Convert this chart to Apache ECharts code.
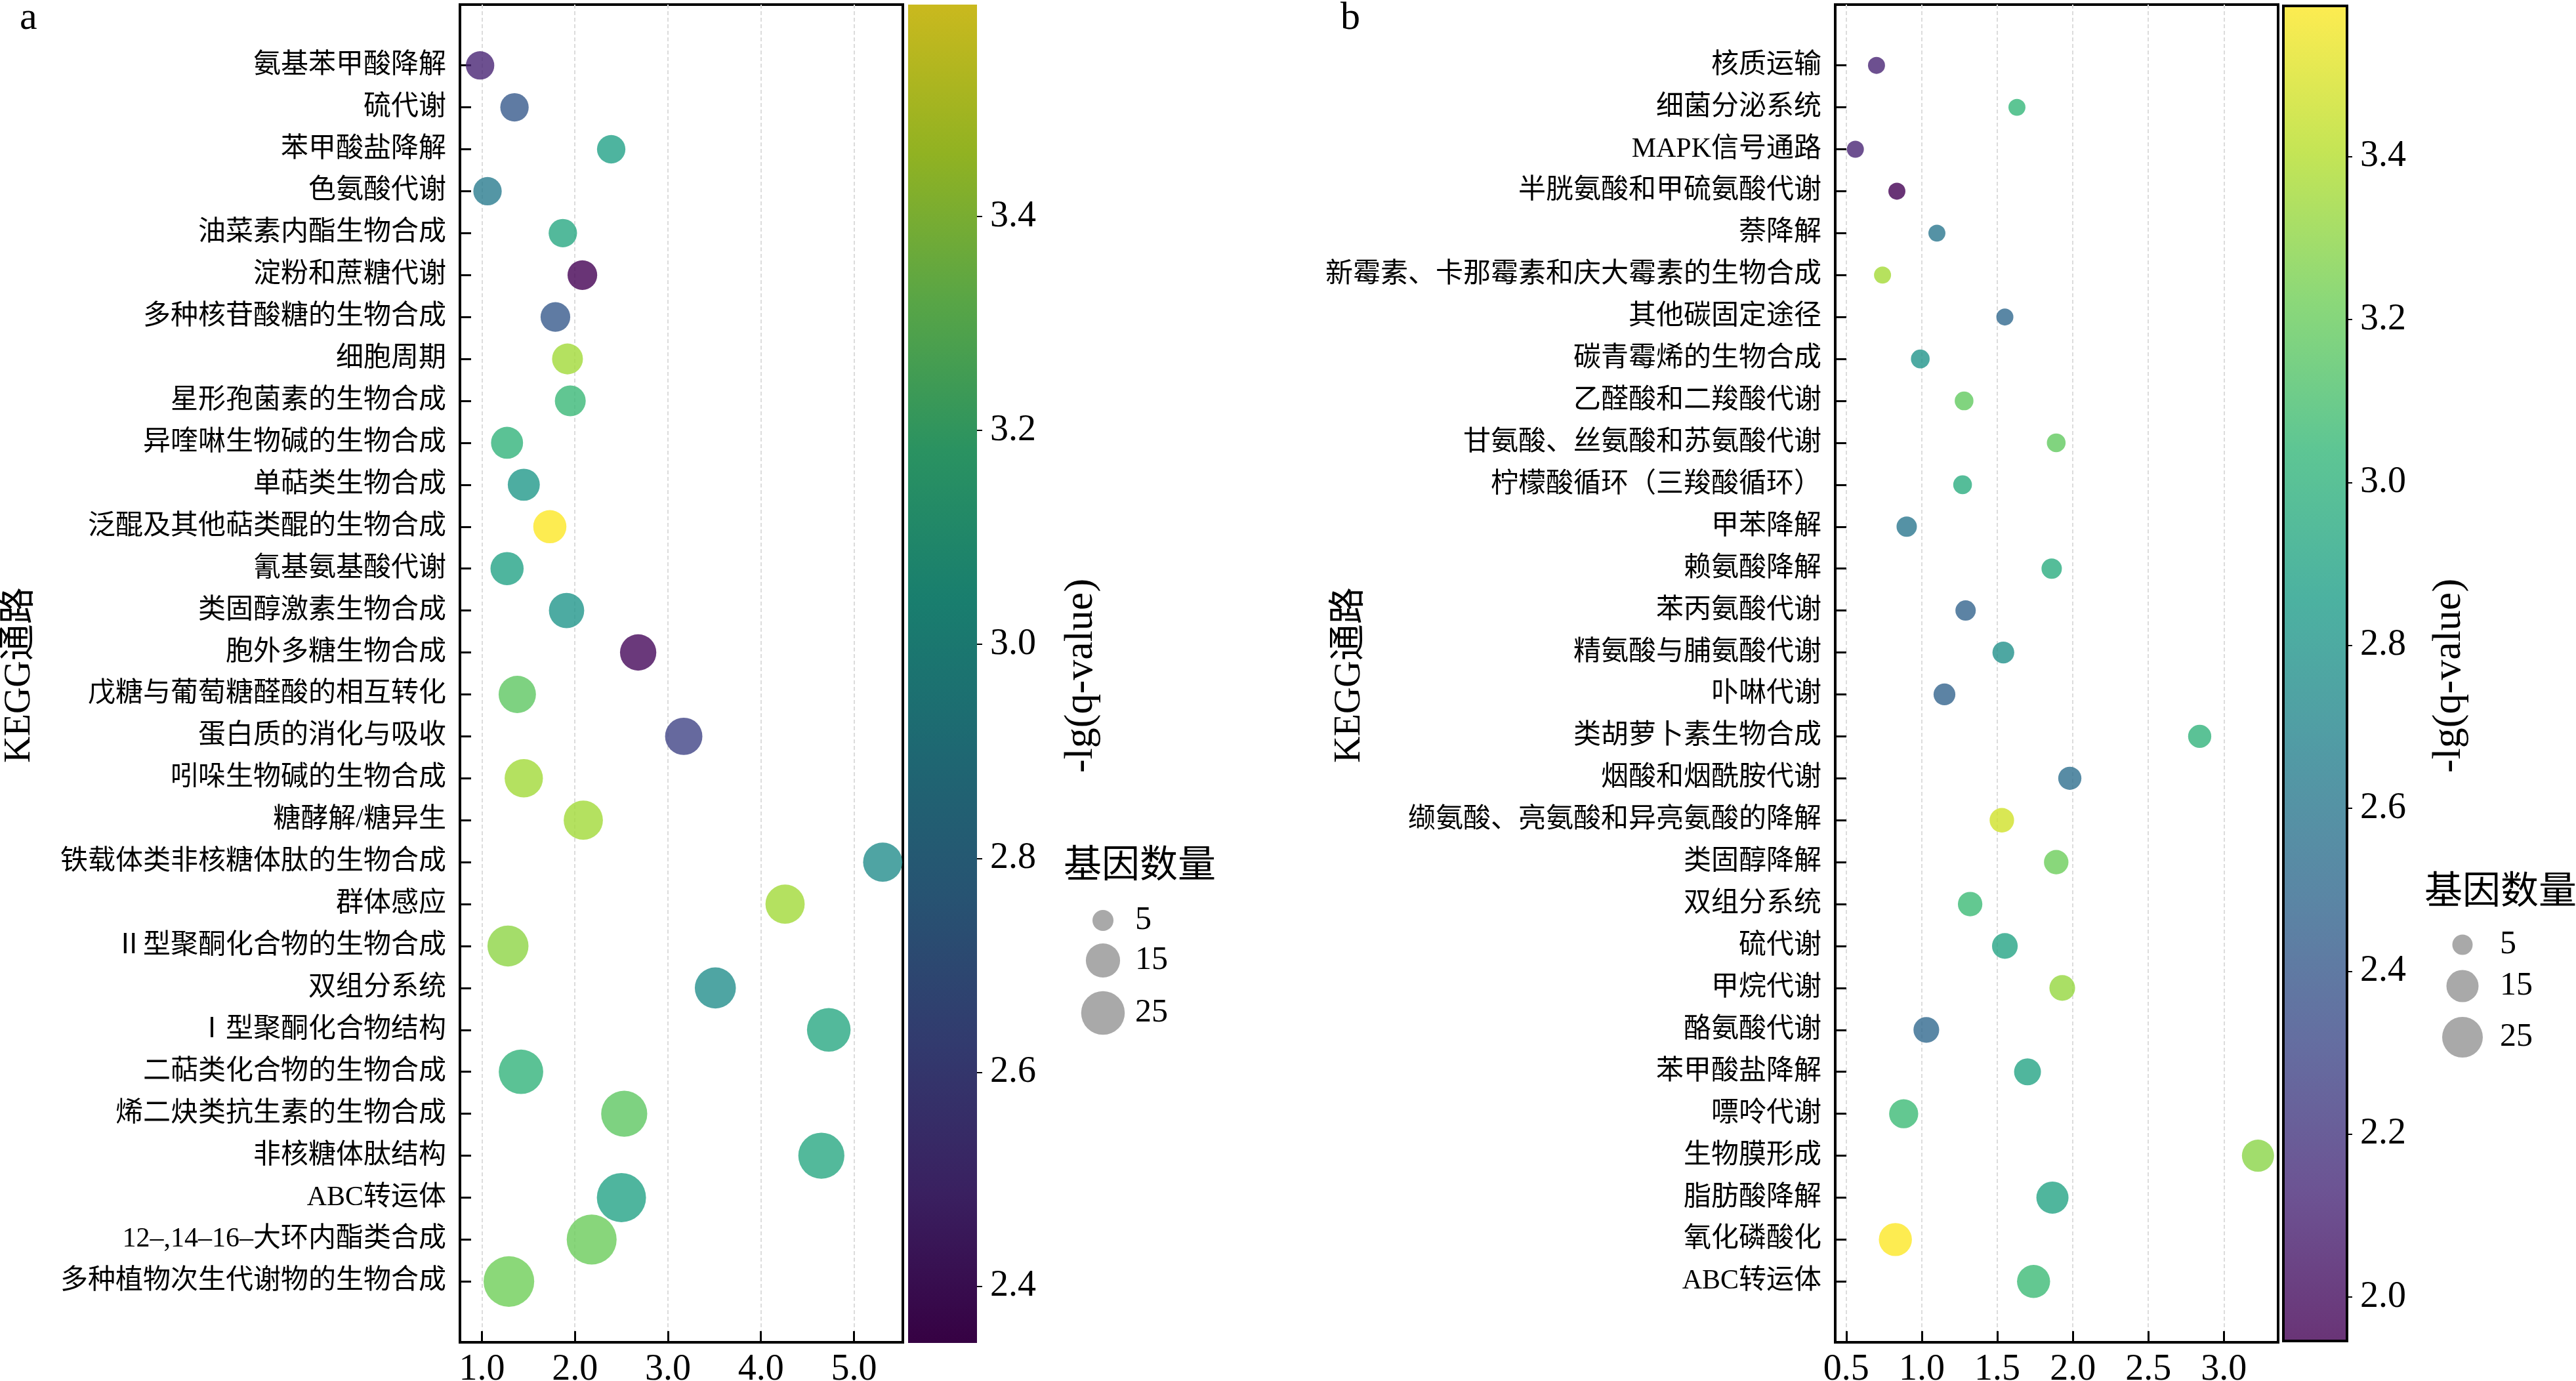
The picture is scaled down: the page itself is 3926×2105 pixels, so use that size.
<!DOCTYPE html>
<html>
<head>
<meta charset="UTF-8">
<title>KEGG富集气泡图</title>
<script src="https://cdn.jsdelivr.net/npm/echarts/dist/echarts.min.js"></script>
<style>
html,body{margin:0;padding:0;background:#fff;}
#main{width:3926px;height:2105px;}
</style>
</head>
<body>
<div id="main"></div>
<script type="text/javascript">
// a图：通路、富集因子、-lg(q)、基因数
var catsA = ['氨基苯甲酸降解','硫代谢','苯甲酸盐降解','色氨酸代谢','油菜素内酯生物合成','淀粉和蔗糖代谢','多种核苷酸糖的生物合成','细胞周期','星形孢菌素的生物合成','异喹啉生物碱的生物合成','单萜类生物合成','泛醌及其他萜类醌的生物合成','氰基氨基酸代谢','类固醇激素生物合成','胞外多糖生物合成','戊糖与葡萄糖醛酸的相互转化','蛋白质的消化与吸收','吲哚生物碱的生物合成','糖酵解/糖异生','铁载体类非核糖体肽的生物合成','群体感应','Ⅱ型聚酮化合物的生物合成','双组分系统','Ⅰ型聚酮化合物结构','二萜类化合物的生物合成','烯二炔类抗生素的生物合成','非核糖体肽结构','ABC转运体','12–,14–16–大环内酯类合成','多种植物次生代谢物的生物合成'];
var xA = [0.98,1.35,2.39,1.06,1.87,2.08,1.79,1.92,1.95,1.27,1.45,1.73,1.27,1.91,2.68,1.38,3.17,1.45,2.09,5.31,4.26,1.28,3.51,4.73,1.42,2.53,4.65,2.50,2.18,1.29];
var qA = [2.47,2.70,3.06,2.87,3.10,2.347,2.70,3.42,3.19,3.16,3.01,3.598,3.07,3.00,2.37,3.28,2.60,3.42,3.42,2.96,3.42,3.38,2.97,3.10,3.16,3.28,3.10,3.07,3.31,3.32];
var gA = [10,10,10,10,10,11,11,12,12,13,13,14,14,16,17,18,18,19,20,20,20,22,22,25,26,28,28,32,33,34];
var xTicksA = [1,2,3,4,5];
var cbTicksA = [2.4,2.6,2.8,3.0,3.2,3.4];

// b图
var catsB = ['核质运输','细菌分泌系统','MAPK信号通路','半胱氨酸和甲硫氨酸代谢','萘降解','新霉素、卡那霉素和庆大霉素的生物合成','其他碳固定途径','碳青霉烯的生物合成','乙醛酸和二羧酸代谢','甘氨酸、丝氨酸和苏氨酸代谢','柠檬酸循环（三羧酸循环）','甲苯降解','赖氨酸降解','苯丙氨酸代谢','精氨酸与脯氨酸代谢','卟啉代谢','类胡萝卜素生物合成','烟酸和烟酰胺代谢','缬氨酸、亮氨酸和异亮氨酸的降解','类固醇降解','双组分系统','硫代谢','甲烷代谢','酪氨酸代谢','苯甲酸盐降解','嘌呤代谢','生物膜形成','脂肪酸降解','氧化磷酸化','ABC转运体'];
var xB = [0.70,1.63,0.56,0.835,1.10,0.74,1.55,0.99,1.28,1.89,1.27,0.90,1.86,1.29,1.54,1.15,2.84,1.98,1.53,1.89,1.32,1.55,1.93,1.03,1.70,0.88,3.226,1.865,0.825,1.74];
var qB = [2.11,3.04,2.11,1.946,2.60,3.36,2.50,2.80,3.18,3.18,2.96,2.60,2.96,2.47,2.77,2.47,3.01,2.54,3.47,3.21,3.06,2.90,3.32,2.50,2.90,3.06,3.29,2.90,3.585,3.06];
var gB = [3,3,3,3,3,3,3,4,4,4,4,5,5,5,6,6,7,7,8,8,8,9,9,9,10,12,15,15,16,16];
var xTicksB = [0.5,1.0,1.5,2.0,2.5,3.0];
var cbTicksB = [2.0,2.2,2.4,2.6,2.8,3.0,3.2,3.4];

var legendCounts = [5,15,25];

var viridis = ['#440154','#482878','#3e4989','#31688e','#26828e','#1f9e89','#35b779','#6ece58','#b5de2b','#fde725'];
var FONT = "'Liberation Serif','Noto Sans CJK SC',serif";

// 气泡直径(面积与基因数线性)
function sizeA(g){ return Math.sqrt(174 + 170 * g); }
function sizeB(g){ return Math.sqrt(241 + 144 * g); }

function rgb(hex){ return [parseInt(hex.substr(1,2),16),parseInt(hex.substr(3,2),16),parseInt(hex.substr(5,2),16)]; }
function lim(arr){
    var mn = Math.min.apply(null, arr), mx = Math.max.apply(null, arr), pad = (mx - mn) * 0.05;
    return [mn - pad, mx + pad];
}
function idx(n){ var r = []; for (var i = 0; i < n; i++) r.push(i); return r; }
function cbGradient(dark){
    var stops = [];
    for (var i = 0; i < viridis.length; i++) {
        var c = rgb(viridis[viridis.length - 1 - i]);
        var col = dark ? 'rgb(' + Math.round(c[0]*0.8) + ',' + Math.round(c[1]*0.8) + ',' + Math.round(c[2]*0.8) + ')'
                       : 'rgba(' + c[0] + ',' + c[1] + ',' + c[2] + ',0.8)';
        stops.push({offset: i / (viridis.length - 1), color: col});
    }
    return new echarts.graphic.LinearGradient(0, 0, 0, 1, stops);
}

var myChart = echarts.init(document.getElementById('main'));

var xlA = lim(xA), xlB = lim(xB);
var n = catsA.length;

function catAxis(grid, cats){
    return {
        gridIndex: grid, type: 'value', inverse: true, min: -0.05 * (n - 1), max: (n - 1) * 1.05,
        axisLine: {show: false, onZero: false},
        axisTick: {show: true, inside: true, length: 17, customValues: idx(n), lineStyle: {color: '#000', width: 3}},
        axisLabel: {customValues: idx(n), margin: 21, fontSize: 42, color: '#000', fontFamily: FONT,
            formatter: function(v){ return cats[Math.round(v)]; }},
        splitLine: {show: false}
    };
}
function valAxis(grid, l, ticks){
    return {
        gridIndex: grid, type: 'value', position: 'bottom', min: l[0], max: l[1],
        axisLine: {show: false, onZero: false},
        axisTick: {show: true, inside: true, length: 17, customValues: ticks, lineStyle: {color: '#000', width: 3}},
        axisLabel: {customValues: ticks, margin: 14, fontSize: 56, color: '#000', fontFamily: FONT,
            formatter: function(v){ return v.toFixed(1); }},
        splitLine: {show: true, lineStyle: {color: '#dcdcdc', width: 2, type: [6, 4]}}
    };
}
function cbAxis(grid, arr, ticks){
    return {
        gridIndex: grid, type: 'value', position: 'right',
        min: Math.min.apply(null, arr), max: Math.max.apply(null, arr),
        axisLine: {show: false, onZero: false},
        axisTick: {show: true, length: 8, customValues: ticks, lineStyle: {color: '#000', width: 2}},
        axisLabel: {customValues: ticks, margin: 20, fontSize: 56, color: '#000', fontFamily: FONT,
            formatter: function(v){ return v.toFixed(1); }},
        splitLine: {show: false}
    };
}

function legend(cx, cy, sizeFn, title, titleX, titleY, labelX){
    var els = [{type: 'text', x: titleX, y: titleY,
        style: {text: title, fontSize: 58, fontFamily: FONT, fill: '#000', textAlign: 'left', textVerticalAlign: 'middle'}}];
    for (var i = 0; i < legendCounts.length; i++) {
        els.push({type: 'circle', shape: {cx: cx, cy: cy[i], r: sizeFn(legendCounts[i]) / 2}, style: {fill: '#a9a9a9'}});
        els.push({type: 'text', x: labelX, y: cy[i],
            style: {text: String(legendCounts[i]), fontSize: 50, fontFamily: FONT, fill: '#000', textAlign: 'left', textVerticalAlign: 'middle'}});
    }
    return els;
}
function vtext(t, x, y, fs){
    return {type: 'text', x: x, y: y, rotation: Math.PI / 2,
        style: {text: t, fontSize: fs, fontFamily: FONT, fill: '#000', textAlign: 'center', textVerticalAlign: 'middle'}};
}

var option = {
    backgroundColor: '#fff',
    animation: false,
    grid: [
        {left: 701, top: 7, width: 675, height: 2039, show: true, borderColor: '#000', borderWidth: 4, backgroundColor: '#fff', containLabel: false, outerBoundsMode: 'none'},
        {left: 2797, top: 7, width: 675, height: 2039, show: true, borderColor: '#000', borderWidth: 4, backgroundColor: '#fff', containLabel: false, outerBoundsMode: 'none'},
        {left: 1384, top: 7, width: 105, height: 2040, show: true, borderWidth: 0, backgroundColor: cbGradient(true), containLabel: false, outerBoundsMode: 'none'},
        {left: 3480, top: 9, width: 97, height: 2035, show: true, borderColor: '#000', borderWidth: 4, backgroundColor: cbGradient(false), containLabel: false, outerBoundsMode: 'none'}
    ],
    xAxis: [
        valAxis(0, xlA, xTicksA),
        valAxis(1, xlB, xTicksB),
        {gridIndex: 2, type: 'value', show: false, min: 0, max: 1},
        {gridIndex: 3, type: 'value', show: false, min: 0, max: 1}
    ],
    yAxis: [
        catAxis(0, catsA),
        catAxis(1, catsB),
        cbAxis(2, qA, cbTicksA),
        cbAxis(3, qB, cbTicksB)
    ],
    visualMap: [
        {type: 'continuous', show: false, seriesIndex: 0, dimension: 2,
            min: Math.min.apply(null, qA), max: Math.max.apply(null, qA), inRange: {color: viridis}},
        {type: 'continuous', show: false, seriesIndex: 1, dimension: 2,
            min: Math.min.apply(null, qB), max: Math.max.apply(null, qB), inRange: {color: viridis}}
    ],
    series: [
        {
            type: 'scatter', xAxisIndex: 0, yAxisIndex: 0,
            data: xA.map(function(x, i){ return [x, i, qA[i], gA[i]]; }),
            symbolSize: function(v){ return sizeA(v[3]); },
            itemStyle: {opacity: 0.8}
        },
        {
            type: 'scatter', xAxisIndex: 1, yAxisIndex: 1,
            data: xB.map(function(x, i){ return [x, i, qB[i], gB[i]]; }),
            symbolSize: function(v){ return sizeB(v[3]); },
            itemStyle: {opacity: 0.8}
        }
    ],
    graphic: [
        {type: 'text', x: 30, y: 28, style: {text: 'a', fontSize: 60, fontFamily: FONT, fill: '#000', textAlign: 'left', textVerticalAlign: 'middle'}},
        {type: 'text', x: 2043, y: 28, style: {text: 'b', fontSize: 60, fontFamily: FONT, fill: '#000', textAlign: 'left', textVerticalAlign: 'middle'}},
        vtext('KEGG通路', 30, 1029, 56),
        vtext('KEGG通路', 2057, 1029, 56),
        vtext('-lg(q-value)', 1648, 1030, 62),
        vtext('-lg(q-value)', 3733, 1030, 62)
    ].concat(legend(1681, [1403, 1464, 1544], sizeA, '基因数量', 1621, 1322, 1730))
     .concat(legend(3753, [1440, 1503, 1581], sizeB, '基因数量', 3695, 1362, 3810))
};
myChart.setOption(option);
</script>
</body>
</html>
